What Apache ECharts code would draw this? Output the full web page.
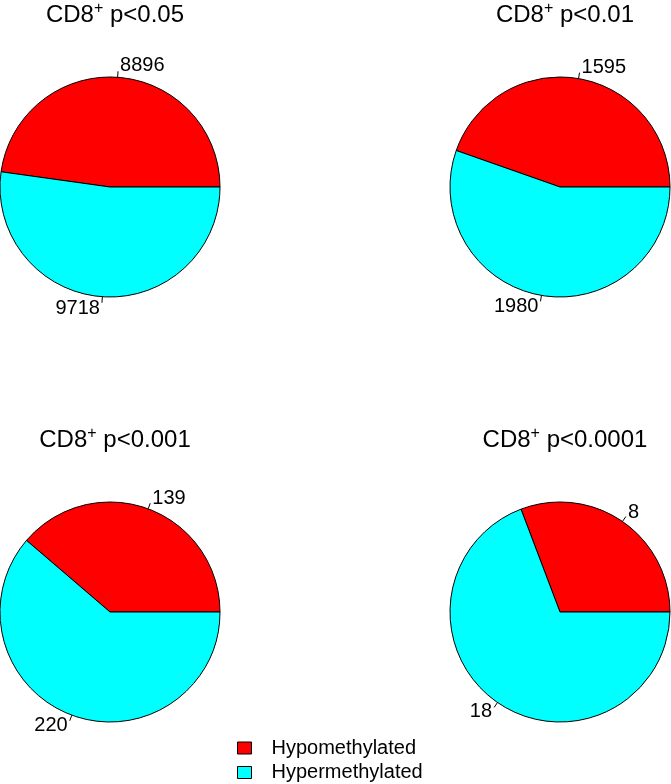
<!DOCTYPE html>
<html>
<head>
<meta charset="utf-8">
<script src="https://cdn.jsdelivr.net/npm/echarts@6/dist/echarts.min.js"></script>
<style>html,body{margin:0;padding:0;background:#fff}#c{width:671px;height:784px}</style>
</head>
<body>
<div id="c"></div>
<script>
var categories = ["Hypomethylated", "Hypermethylated"];
var thresholds = ["0.05", "0.01", "0.001", "0.0001"];
var hypoValues = [8896, 1595, 139, 8];
var hyperValues = [9718, 1980, 220, 18];
var colors = ["#FF0000", "#00FFFF"];

var centers = [[110, 187], [560, 187], [110, 612], [560, 612]];
var titleTops = [-4, -4, 421, 421];
var R = 110;
var FONT = "Liberation Sans, Arial, Helvetica, sans-serif";

var chart = echarts.init(document.getElementById('c'), null, {renderer: 'canvas'});

var titles = thresholds.map(function (t, i) {
  return {
    text: "CD8{sup|+} p<" + t,
    left: centers[i][0],
    top: titleTops[i],
    textAlign: 'center',
    textStyle: {
      fontFamily: FONT, fontSize: 24, fontWeight: 'normal', color: '#000',
      rich: {
        sup: {fontFamily: FONT, fontSize: 16, verticalAlign: 'top', padding: [0, 0, 12, 0], color: '#000'}
      }
    }
  };
});

// R places labels at 1.1*r; ECharts at the end of the tick line (1.05*r).
// Shift each label vertically by the remaining 0.05*r along its direction.
function labelFor(v, total, before) {
  var mid = (before + v / 2) / total * 2 * Math.PI;
  var s = 0.05 * R * Math.sin(mid);
  var p = Math.round(Math.abs(s) * 2);
  return {
    formatter: '{v|{c}}',
    rich: {v: {fontFamily: FONT, fontSize: 20, color: '#000', padding: s > 0 ? [0, 0, p, 0] : [p, 0, 0, 0]}}
  };
}

var series = thresholds.map(function (t, i) {
  var tot = hypoValues[i] + hyperValues[i];
  return {
    type: 'pie',
    center: centers[i],
    radius: [0, R],
    startAngle: 0,
    clockwise: false,
    avoidLabelOverlap: false,
    animation: false,
    silent: true,
    data: [
      {name: categories[0], value: hypoValues[i], itemStyle: {color: colors[0]},
        label: labelFor(hypoValues[i], tot, 0)},
      {name: categories[1], value: hyperValues[i], itemStyle: {color: colors[1]},
        label: labelFor(hyperValues[i], tot, hypoValues[i])}
    ],
    itemStyle: {borderColor: '#000', borderWidth: 1},
    label: {
      show: true, position: 'outside', formatter: '{c}',
      fontFamily: FONT, fontSize: 20, color: '#000',
      distanceToLabelLine: 2
    },
    labelLine: {show: true, length: 6, length2: 0, smooth: false, lineStyle: {color: '#000', width: 1}},
    emphasis: {disabled: true}
  };
});

chart.setOption({
  backgroundColor: '#fff',
  title: titles,
  legend: {
    orient: 'vertical',
    left: 237,
    top: 738,
    padding: 0,
    itemWidth: 14,
    itemHeight: 12,
    itemGap: 4.5,
    icon: 'rect',
    data: categories,
    textStyle: {fontFamily: FONT, fontSize: 20, lineHeight: 20, color: '#000', padding: [0, 0, 0, 15]},
    itemStyle: {borderColor: '#000', borderWidth: 1}
  },
  series: series
});
</script>
</body>
</html>
